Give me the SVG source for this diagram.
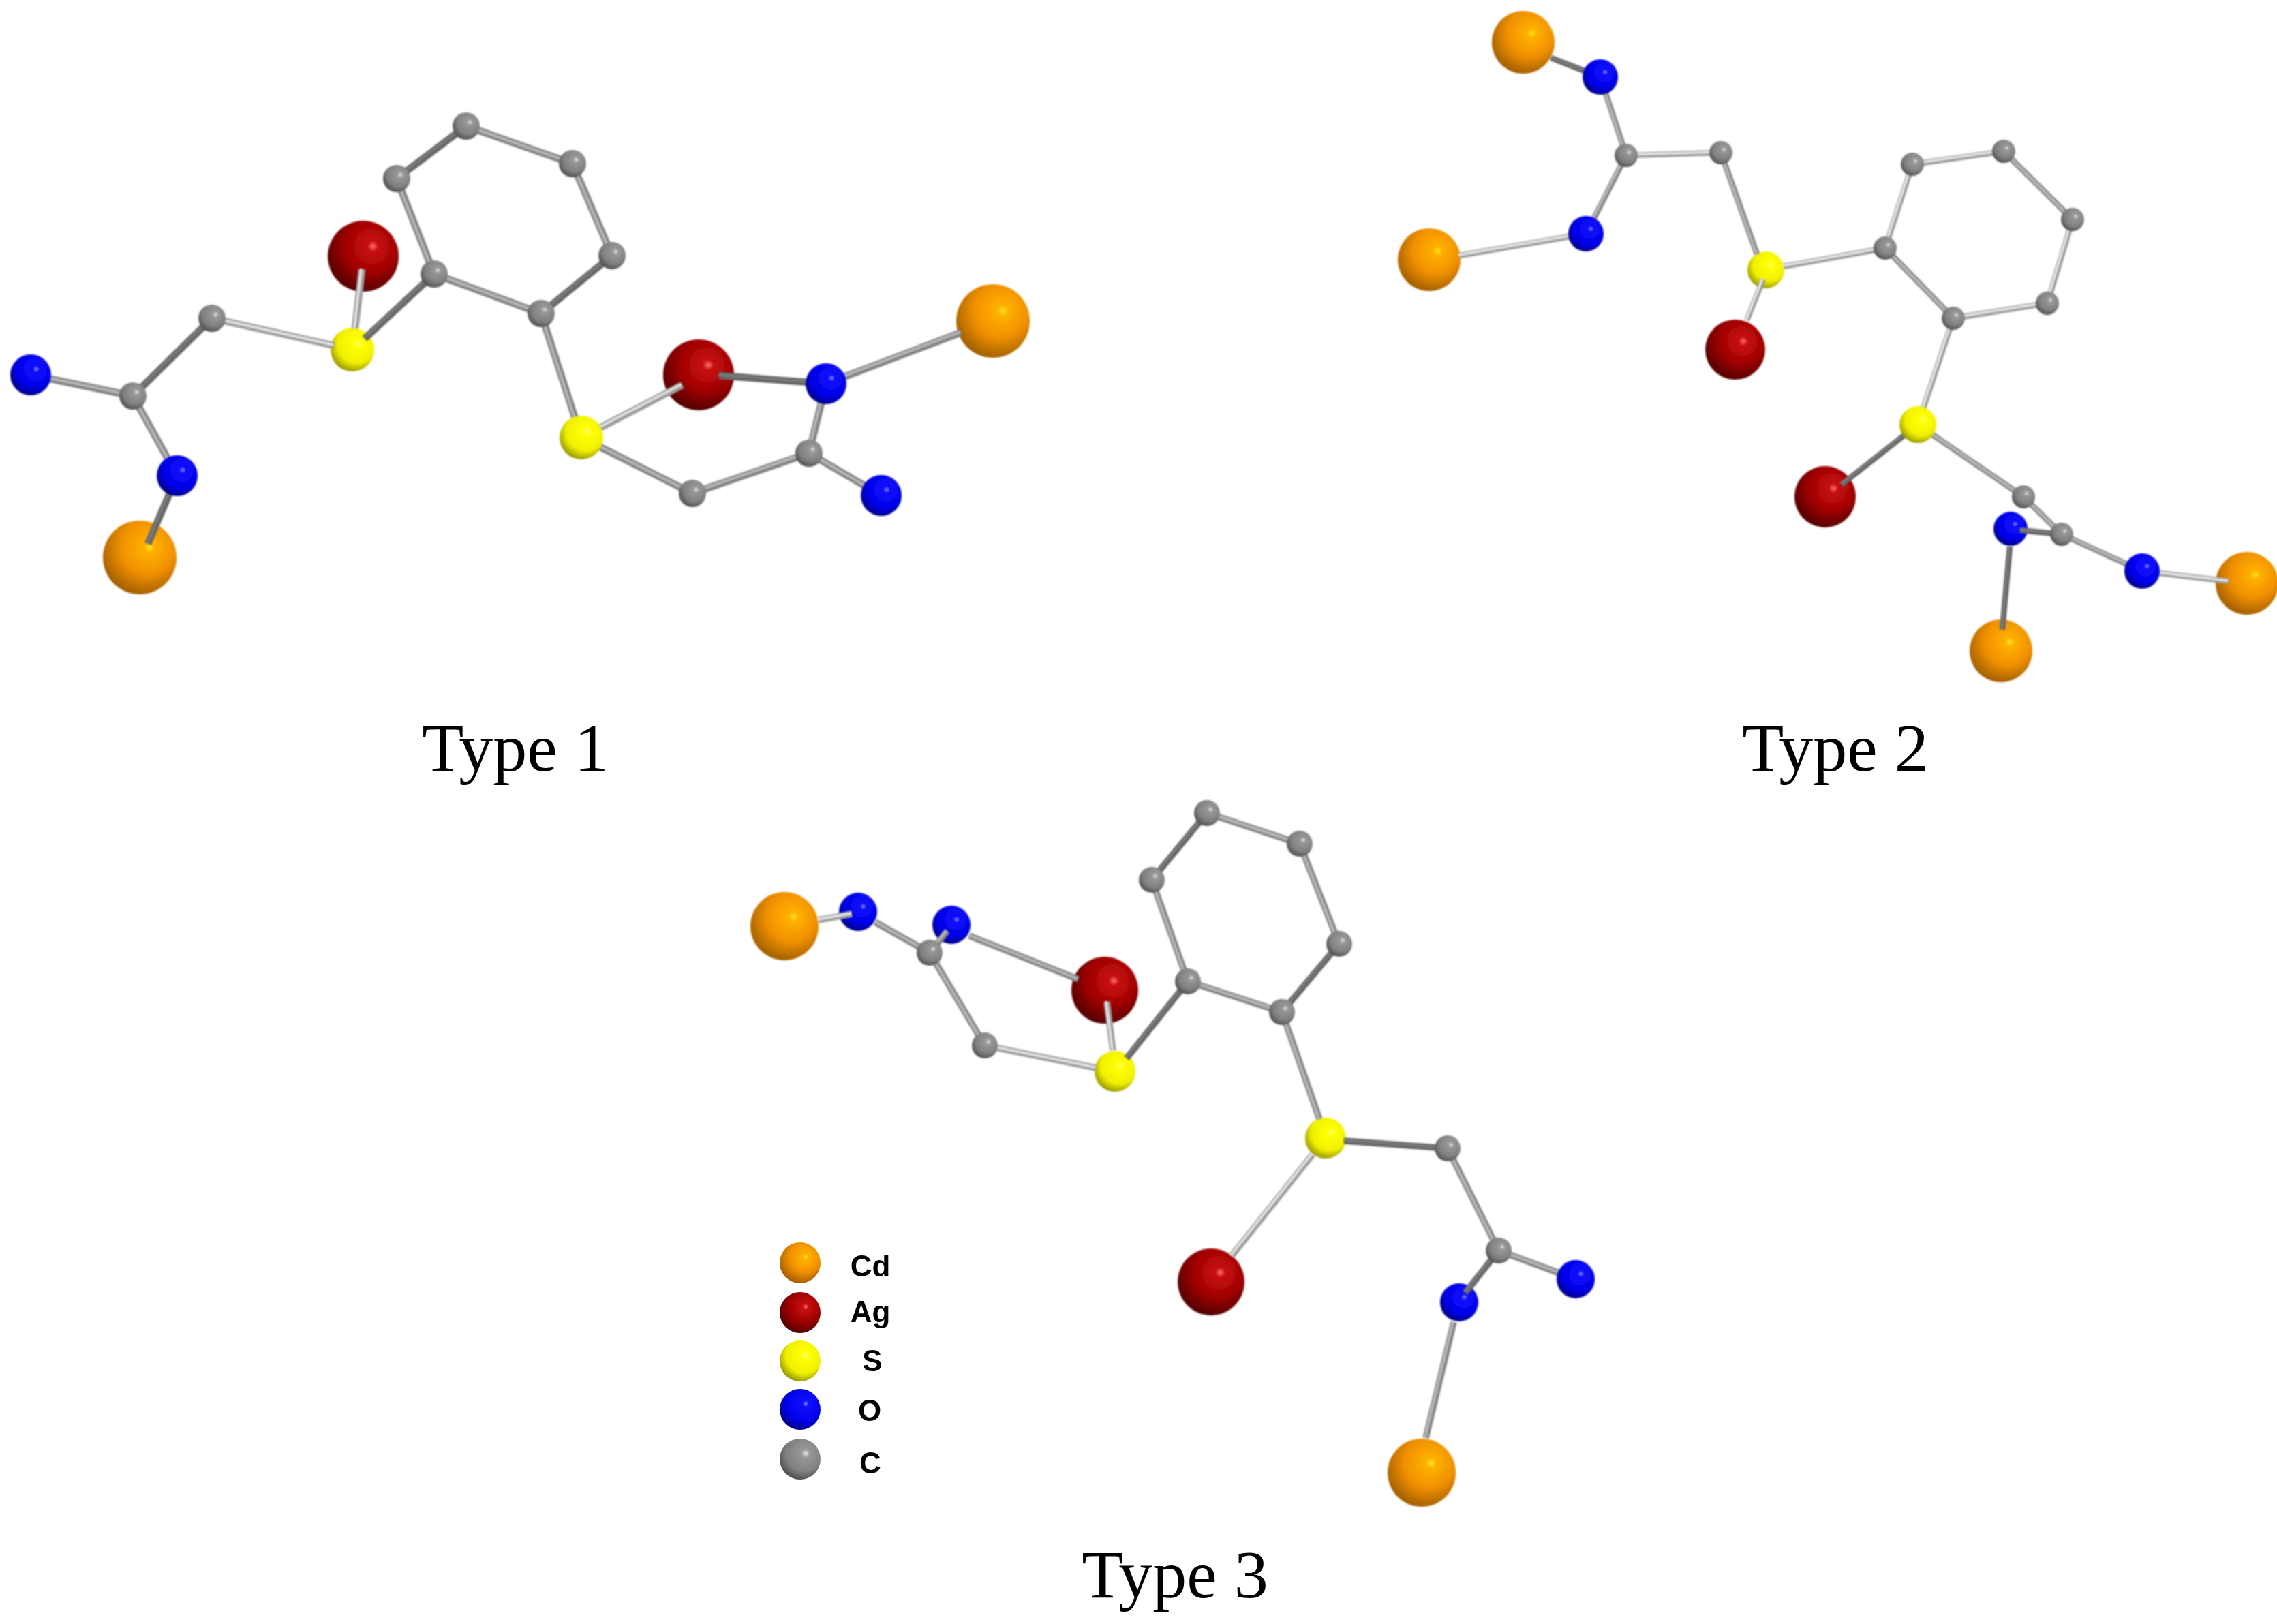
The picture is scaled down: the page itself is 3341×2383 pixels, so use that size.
<svg xmlns="http://www.w3.org/2000/svg" width="3341" height="2383" viewBox="0 0 3341 2383">
<style>
.cd{fill:url(#gCd)}.ag{fill:url(#gAg)}.s{fill:url(#gS)}.o{fill:url(#gO)}.c{fill:url(#gC)}
#connectors{fill:none;stroke-linecap:butt}
.d{stroke:#686868}.m{stroke:#828282}.l{stroke:#9c9c9c}
.w1{stroke-width:10.5}.w2{stroke-width:8.5}.w3{stroke-width:9.5}
use.kd{stroke:#7c7c7c;stroke-width:3}
use.km{stroke:#b6b6b6;stroke-width:4}
use.kl{stroke:#e4e4e4;stroke-width:3.5}
.cap{font-family:"Liberation Serif","Times New Roman",serif;font-size:100px;fill:#000;text-anchor:middle}
.key{font-family:"Liberation Sans",Arial,sans-serif;font-size:44px;font-weight:bold;fill:#000;text-anchor:middle}
</style>
<defs>
<filter id="soft" filterUnits="userSpaceOnUse" x="0" y="0" width="3341" height="2383"><feGaussianBlur stdDeviation="0.8"/></filter>
<radialGradient id="gCd" cx=".58" cy=".36" r=".74" fx=".64" fy=".36"><stop offset="0" stop-color="#ffe820"/><stop offset=".1" stop-color="#ffb000"/><stop offset=".5" stop-color="#f09000"/><stop offset="1" stop-color="#8a5000"/></radialGradient>
<radialGradient id="gAg" cx=".58" cy=".36" r=".74" fx=".64" fy=".36"><stop offset="0" stop-color="#ff7070"/><stop offset=".1" stop-color="#c81010"/><stop offset=".5" stop-color="#a00000"/><stop offset="1" stop-color="#3c0000"/></radialGradient>
<radialGradient id="gS" cx=".58" cy=".36" r=".74" fx=".64" fy=".36"><stop offset="0" stop-color="#ffff70"/><stop offset=".15" stop-color="#ffff00"/><stop offset=".6" stop-color="#f0f000"/><stop offset="1" stop-color="#767600"/></radialGradient>
<radialGradient id="gO" cx=".58" cy=".36" r=".74" fx=".64" fy=".36"><stop offset="0" stop-color="#9090ff"/><stop offset=".1" stop-color="#1010ff"/><stop offset=".6" stop-color="#0000e8"/><stop offset="1" stop-color="#000060"/></radialGradient>
<radialGradient id="gC" cx=".58" cy=".36" r=".74" fx=".64" fy=".36"><stop offset="0" stop-color="#e8e8e8"/><stop offset=".14" stop-color="#989898"/><stop offset=".6" stop-color="#808080"/><stop offset="1" stop-color="#3c3c3c"/></radialGradient>
</defs>
<rect width="3341" height="2383" fill="#fff"/>

<g id="lower-atoms" filter="url(#soft)">
<g id="t1-ag1"><circle class="ag" cx="533" cy="376" r="52"/></g>
<g id="t1-s1"><circle class="s" cx="517" cy="513" r="32"/></g>
<g id="t1-cd1"><circle class="cd" cx="205" cy="818" r="54"/></g>
<g id="t1-ag2"><circle class="ag" cx="1025" cy="550" r="52"/></g>
<g id="t1-cd2"><circle class="cd" cx="1457" cy="471" r="54"/></g>
<g id="t2-cd1"><circle class="cd" cx="2235" cy="62" r="46"/></g>
<g id="t2-cd2"><circle class="cd" cx="2097" cy="381" r="46"/></g>
<g id="t2-ag1"><circle class="ag" cx="2546" cy="513" r="44"/></g>
<g id="t2-s1"><circle class="s" cx="2591" cy="396" r="27"/></g>
<g id="t2-ag2"><circle class="ag" cx="2678" cy="729" r="45"/></g>
<g id="t2-cd3"><circle class="cd" cx="3297" cy="856" r="46"/></g>
<g id="t2-cd4"><circle class="cd" cx="2936" cy="955" r="46"/></g>
<g id="t2-o3"><circle class="o" cx="2950" cy="776" r="25"/></g>
<g id="t3-cd1"><circle class="cd" cx="1151" cy="1359" r="50"/></g>
<g id="t3-o1"><circle class="o" cx="1259" cy="1338" r="28"/></g>
<g id="t3-o2"><circle class="o" cx="1396" cy="1357" r="28"/></g>
<g id="t3-ag1"><circle class="ag" cx="1621" cy="1453" r="49"/></g>
<g id="t3-s1"><circle class="s" cx="1636" cy="1572" r="30"/></g>
<g id="t3-s2"><circle class="s" cx="1945" cy="1670" r="30"/></g>
<g id="t3-ag2"><circle class="ag" cx="1777" cy="1881" r="49"/></g>
<g id="t3-o4"><circle class="o" cx="2141" cy="1911" r="28"/></g>
<g id="t3-cd2"><circle class="cd" cx="2086" cy="2161" r="50"/></g>
</g>

<g id="connectors" filter="url(#soft)">
<g class="w1 d"><g id="b1d">
<line x1="195" y1="581" x2="311" y2="467"/>
<line x1="260" y1="698" x2="217" y2="798"/>
<line x1="535" y1="497" x2="637" y2="402"/>
<line x1="582" y1="262" x2="684" y2="185"/>
<line x1="898" y1="375" x2="794" y2="460"/>
<line x1="1055" y1="551" x2="1212" y2="563"/>
</g></g>
<use href="#b1d" class="kd" transform="translate(-1 -1)"/>
<g class="w1 m"><g id="b1m">
<line x1="45" y1="550" x2="195" y2="581"/>
<line x1="195" y1="581" x2="260" y2="698"/>
<line x1="637" y1="402" x2="582" y2="262"/>
<line x1="684" y1="185" x2="840" y2="240"/>
<line x1="840" y1="240" x2="898" y2="375"/>
<line x1="794" y1="460" x2="637" y2="402"/>
<line x1="794" y1="460" x2="853" y2="642"/>
<line x1="853" y1="642" x2="1016" y2="724"/>
<line x1="1016" y1="724" x2="1187" y2="665"/>
<line x1="1187" y1="665" x2="1212" y2="563"/>
<line x1="1187" y1="665" x2="1293" y2="727"/>
<line x1="1212" y1="563" x2="1410" y2="488"/>
</g></g>
<use href="#b1m" class="km" transform="translate(-1 -1)"/>
<g class="w1 l"><g id="b1l">
<line x1="311" y1="467" x2="490" y2="507"/>
<line x1="531" y1="395" x2="521" y2="482"/>
<line x1="853" y1="642" x2="1001" y2="565"/>
</g></g>
<use href="#b1l" class="kl" transform="translate(-1 -1)"/>

<g class="w2 d"><g id="b2d">
<line x1="2276" y1="85" x2="2348" y2="113"/>
<line x1="2702" y1="711" x2="2814" y2="623"/>
<line x1="2964" y1="778" x2="3025" y2="784"/>
<line x1="2949" y1="802" x2="2938" y2="924"/>
</g></g>
<use href="#b2d" class="kd" transform="translate(-1 -1)"/>
<g class="w2 m"><g id="b2m">
<line x1="2348" y1="113" x2="2386" y2="228"/>
<line x1="2386" y1="228" x2="2327" y2="343"/>
<line x1="2525" y1="224" x2="2578" y2="373"/>
<line x1="2940" y1="222" x2="3041" y2="322"/>
<line x1="2866" y1="467" x2="2766" y2="364"/>
<line x1="2814" y1="623" x2="2969" y2="729"/>
<line x1="2969" y1="729" x2="3025" y2="784"/>
<line x1="3025" y1="784" x2="3143" y2="838"/>
</g></g>
<use href="#b2m" class="km" transform="translate(-1 -1)"/>
<g class="w2 l"><g id="b2l">
<line x1="2386" y1="228" x2="2525" y2="224"/>
<line x1="2327" y1="343" x2="2141" y2="375"/>
<line x1="2563" y1="470" x2="2587" y2="410"/>
<line x1="2617" y1="391" x2="2766" y2="364"/>
<line x1="2766" y1="364" x2="2806" y2="241"/>
<line x1="2806" y1="241" x2="2940" y2="222"/>
<line x1="3041" y1="322" x2="3004" y2="445"/>
<line x1="3004" y1="445" x2="2866" y2="467"/>
<line x1="2866" y1="467" x2="2814" y2="623"/>
<line x1="3143" y1="838" x2="3270" y2="853"/>
</g></g>
<use href="#b2l" class="kl" transform="translate(-1 -1)"/>

<g class="w3 d"><g id="b3d">
<line x1="1653" y1="1553" x2="1743" y2="1440"/>
<line x1="1690" y1="1291" x2="1771" y2="1193"/>
<line x1="1965" y1="1385" x2="1881" y2="1485"/>
<line x1="1972" y1="1674" x2="2124" y2="1685"/>
<line x1="2199" y1="1835" x2="2150" y2="1897"/>
</g></g>
<use href="#b3d" class="kd" transform="translate(-1 -1)"/>
<g class="w3 m"><g id="b3m">
<line x1="1284" y1="1353" x2="1364" y2="1398"/>
<line x1="1364" y1="1398" x2="1390" y2="1366"/>
<line x1="1422" y1="1373" x2="1582" y2="1437"/>
<line x1="1364" y1="1398" x2="1445" y2="1534"/>
<line x1="1743" y1="1440" x2="1690" y2="1291"/>
<line x1="1771" y1="1193" x2="1907" y2="1238"/>
<line x1="1907" y1="1238" x2="1965" y2="1385"/>
<line x1="1881" y1="1485" x2="1743" y2="1440"/>
<line x1="1881" y1="1485" x2="1936" y2="1642"/>
<line x1="2124" y1="1685" x2="2199" y2="1835"/>
<line x1="2199" y1="1835" x2="2312" y2="1877"/>
<line x1="2133" y1="1940" x2="2092" y2="2110"/>
</g></g>
<use href="#b3m" class="km" transform="translate(-1 -1)"/>
<g class="w3 l"><g id="b3l">
<line x1="1201" y1="1350" x2="1250" y2="1341"/>
<line x1="1445" y1="1534" x2="1608" y2="1567"/>
<line x1="1624" y1="1470" x2="1633" y2="1541"/>
<line x1="1926" y1="1694" x2="1807" y2="1843"/>
</g></g>
<use href="#b3l" class="kl" transform="translate(-1 -1)"/>
</g>

<g id="upper-atoms" filter="url(#soft)">
<g id="t1-o1"><circle class="o" cx="45" cy="550" r="30"/></g>
<g id="t1-c1"><circle class="c" cx="195" cy="581" r="20"/></g>
<g id="t1-c2"><circle class="c" cx="311" cy="467" r="20"/></g>
<g id="t1-o2"><circle class="o" cx="260" cy="698" r="30"/></g>
<g id="t1-c3"><circle class="c" cx="637" cy="402" r="20"/></g>
<g id="t1-c4"><circle class="c" cx="582" cy="262" r="20"/></g>
<g id="t1-c5"><circle class="c" cx="684" cy="185" r="20"/></g>
<g id="t1-c6"><circle class="c" cx="840" cy="240" r="20"/></g>
<g id="t1-c7"><circle class="c" cx="898" cy="375" r="20"/></g>
<g id="t1-c8"><circle class="c" cx="794" cy="460" r="20"/></g>
<g id="t1-s2"><circle class="s" cx="853" cy="642" r="32"/></g>
<g id="t1-o3"><circle class="o" cx="1212" cy="563" r="30"/></g>
<g id="t1-c9"><circle class="c" cx="1016" cy="724" r="20"/></g>
<g id="t1-c10"><circle class="c" cx="1187" cy="665" r="20"/></g>
<g id="t1-o4"><circle class="o" cx="1293" cy="727" r="30"/></g>

<g id="t2-o1"><circle class="o" cx="2348" cy="113" r="26"/></g>
<g id="t2-c1"><circle class="c" cx="2386" cy="228" r="17"/></g>
<g id="t2-c2"><circle class="c" cx="2525" cy="224" r="17"/></g>
<g id="t2-o2"><circle class="o" cx="2327" cy="343" r="26"/></g>
<g id="t2-c3"><circle class="c" cx="2766" cy="364" r="17"/></g>
<g id="t2-c4"><circle class="c" cx="2806" cy="241" r="17"/></g>
<g id="t2-c5"><circle class="c" cx="2940" cy="222" r="17"/></g>
<g id="t2-c6"><circle class="c" cx="3041" cy="322" r="17"/></g>
<g id="t2-c7"><circle class="c" cx="3004" cy="445" r="17"/></g>
<g id="t2-c8"><circle class="c" cx="2866" cy="467" r="17"/></g>
<g id="t2-s2"><circle class="s" cx="2814" cy="623" r="27"/></g>
<g id="t2-c9"><circle class="c" cx="2969" cy="729" r="17"/></g>
<g id="t2-c10"><circle class="c" cx="3025" cy="784" r="17"/></g>
<g id="t2-o4"><circle class="o" cx="3143" cy="838" r="26"/></g>

<g id="t3-c1"><circle class="c" cx="1364" cy="1398" r="19"/></g>
<g id="t3-c2"><circle class="c" cx="1445" cy="1534" r="19"/></g>
<g id="t3-c3"><circle class="c" cx="1743" cy="1440" r="19"/></g>
<g id="t3-c4"><circle class="c" cx="1690" cy="1291" r="19"/></g>
<g id="t3-c5"><circle class="c" cx="1771" cy="1193" r="19"/></g>
<g id="t3-c6"><circle class="c" cx="1907" cy="1238" r="19"/></g>
<g id="t3-c7"><circle class="c" cx="1965" cy="1385" r="19"/></g>
<g id="t3-c8"><circle class="c" cx="1881" cy="1485" r="19"/></g>
<g id="t3-c9"><circle class="c" cx="2124" cy="1685" r="19"/></g>
<g id="t3-c10"><circle class="c" cx="2199" cy="1835" r="19"/></g>
<g id="t3-o3"><circle class="o" cx="2312" cy="1877" r="28"/></g>
</g>

<g id="legend">
<g id="key-cd"><circle class="cd" cx="1174" cy="1853" r="30"/><text class="key" x="1277" y="1873">Cd</text></g>
<g id="key-ag"><circle class="ag" cx="1174" cy="1926" r="30"/><text class="key" x="1277" y="1940">Ag</text></g>
<g id="key-s"><circle class="s" cx="1174" cy="1997" r="30"/><text class="key" x="1280" y="2012">S</text></g>
<g id="key-o"><circle class="o" cx="1174" cy="2068" r="30"/><text class="key" x="1276" y="2085">O</text></g>
<g id="key-c"><circle class="c" cx="1174" cy="2141" r="30"/><text class="key" x="1277" y="2162">C</text></g>
</g>

<text class="cap" x="756" y="1131">Type 1</text>
<text class="cap" x="2693" y="1131">Type 2</text>
<text class="cap" x="1724" y="2344">Type 3</text>
</svg>
